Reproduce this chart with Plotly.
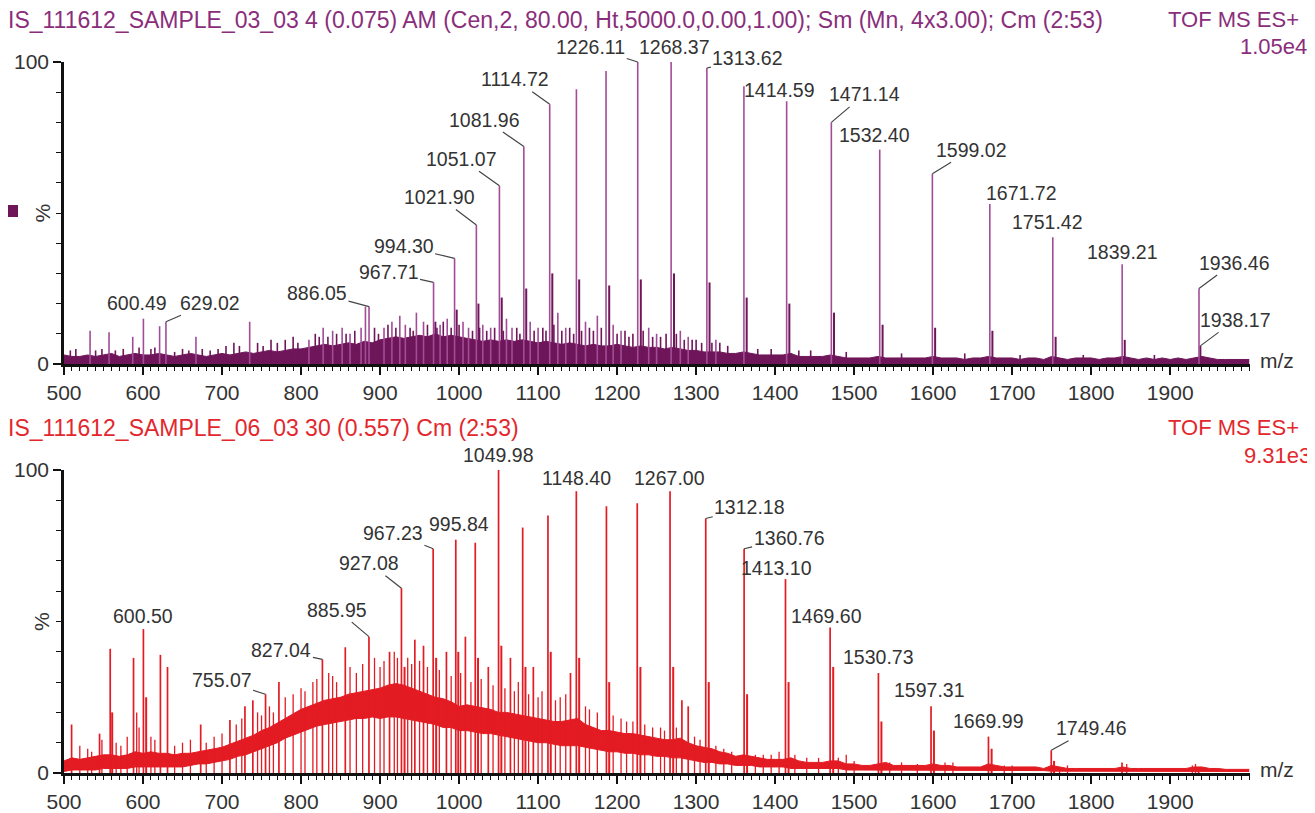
import plotly.graph_objects as go

# ---------------- data ----------------
# m/z grid for baselines (every 10 units, 500..2000)
grid_mz = list(range(500, 2001, 10))

# top spectrum: baseline envelope (% intensity)
top_base = [3, 2.5, 2.5, 3, 2.5, 3, 3.5, 2.5, 3, 3.5,
            3, 3, 3.5, 3, 2.5, 3, 3.5, 3, 2.5, 3,
            3.5, 3, 3.5, 4, 3.5, 4, 4.5, 4, 4.5, 5,
            5, 5.5, 6, 6.5, 6, 6.5, 7, 6.5, 7.5, 7,
            8, 8.5, 9, 8.5, 9, 9.5, 9, 10, 9, 9.5,
            9, 8.5, 8, 7.5, 8, 7.5, 8, 7.5, 8, 7.5,
            7, 7.5, 7, 6.5, 7, 6.5, 6, 6.5, 6, 6,
            6.5, 6, 5.5, 6, 5.5, 5.5, 5, 5.5, 5, 4.5,
            4.5, 4, 4, 4, 3.5, 3.5, 4, 3.5, 3, 3,
            3, 3, 3.5, 2.5, 2.5, 2.5, 2.5, 3, 2.5, 2,
            2, 2, 2, 2.5, 2, 2, 2, 2, 2, 2,
            2.5, 2, 2, 2, 1.5, 2, 2, 2.5, 2, 2,
            2, 1.5, 2, 2, 1.5, 2.5, 2, 1.5, 2, 2,
            2, 1.5, 2, 2, 2.5, 2, 1.5, 2, 1.5, 2,
            1.5, 2, 1.5, 2, 2.5, 2, 1.5, 1.5, 1.5, 1.5,
            1.5]

# top spectrum: peaks
top_peak_mz = [533, 557, 587, 600.49, 621, 629.02, 667, 735, 810, 828, 840, 852, 862, 876,
               881.5, 886.05, 905, 915, 925, 932, 946, 955, 967.71, 976, 985, 994.30, 1005,
               1012, 1021.90, 1030, 1040, 1051.07, 1060, 1067, 1081.96, 1090, 1100, 1114.72,
               1125, 1135, 1148.50, 1160, 1175, 1186.00, 1195, 1205, 1226.11, 1240, 1250,
               1268.37, 1280, 1290, 1313.62, 1325, 1360.50, 1414.59, 1471.14, 1532.40,
               1599.02, 1671.72, 1751.42, 1839.21, 1936.46]
top_peak_int = [11, 10.5, 9, 15, 12.5, 14, 9, 14, 8, 12, 11, 12, 10, 12,
                19, 19, 12, 14, 16, 13, 17, 14, 27, 13, 15, 35, 14,
                12, 46, 13, 12, 59, 15, 12, 72, 14, 12, 86,
                17, 12, 91, 14, 16, 97, 13, 11, 100, 12, 10,
                100, 11, 9, 98, 8, 92, 87, 80, 71,
                63, 53, 42, 33, 25]

# top spectrum: small noise spikes
top_noise_mz = [508, 515, 540, 548, 565, 575, 595, 610, 615, 640, 650, 658, 675, 685, 695,
                705, 715, 722, 745, 752, 762, 770, 780, 790, 796, 818, 823, 834, 845, 857,
                868, 893, 898, 910, 920, 938, 942, 960, 972, 980, 990, 1000, 1017, 1026,
                1035, 1045, 1056, 1073, 1077, 1095, 1106, 1110, 1120, 1130, 1140, 1145, 1155,
                1165, 1170, 1180, 1200, 1210, 1215, 1220, 1233, 1245, 1255, 1262, 1275, 1285,
                1295, 1300, 1307, 1320, 1330, 1340, 1378, 1395, 1430, 1445, 1490, 1560, 1640,
                1710, 1790, 1880]
top_noise_int = [4.5, 5, 4.5, 5, 4.5, 5, 5.5, 5, 5.5, 4, 5, 4.5, 5, 4.5, 5,
                 6, 7, 6, 7, 6, 8, 7, 8, 9, 7, 10, 9, 9, 10, 10,
                 11, 12, 10, 13, 12, 12, 11, 13, 12, 14, 12, 13, 11, 12,
                 11, 12, 11, 12, 10, 11, 12, 11, 13, 11, 12, 10, 11,
                 12, 11, 12, 10, 11, 9, 10, 11, 9, 9, 10, 10, 8,
                 8, 8, 7, 7, 7, 6, 5, 5, 4.5, 4.5, 4, 3.5, 3.5,
                 3, 3, 3]

# top spectrum: shoulder peaks beside the main ones
top_sh_mz = [970, 997, 1024.5, 1054, 1085, 1118, 1152, 1190, 1230, 1272, 1317, 1364,
             1418, 1474.5, 1536, 1602.5, 1675, 1755, 1842.5, 1938.17]
top_sh_int = [14, 18, 20, 22, 25, 30, 28, 26, 28, 30, 27, 22, 20, 17, 13, 12, 11, 9, 8, 6]

# bottom spectrum: noise band (lower and upper edges, %)
bot_lower = [0.5, 1, 1, 1, 1, 1.5, 1.5, 1.5, 1.5, 2,
             2, 2, 2, 2, 2, 2, 2.5, 3, 3, 3.5,
             4, 4.5, 5.5, 6, 7, 8, 9, 10, 11.5, 12.5,
             13.5, 14.5, 15.5, 16, 16.5, 17, 17.5, 18, 18, 18.5,
             18, 18.5, 18.5, 18, 17.5, 17, 16.5, 16, 15, 15,
             14, 14, 13.5, 13, 13, 12.5, 12, 11.5, 11, 10.5,
             10, 10, 9.5, 9, 9, 9, 8.5, 8, 7.5, 7,
             7, 6.5, 6.5, 6, 6, 5.5, 5.5, 5, 5, 4.5,
             4, 3.5, 3.5, 3, 3, 2.5, 2.5, 2.5, 2, 2,
             2, 2, 1.5, 1.5, 1.5, 1.5, 1.5, 1.5, 1.5, 1,
             1, 1, 1, 1, 1, 1, 1, 1, 1, 1,
             1, 1, 1, 0.8, 0.8, 0.8, 0.8, 1, 0.8, 0.8,
             0.8, 0.8, 0.8, 0.8, 0.8, 0.6, 0.6, 0.6, 0.6, 0.6,
             0.6, 0.6, 0.6, 0.6, 0.6, 0.6, 0.5, 0.5, 0.5, 0.5,
             0.5, 0.5, 0.5, 0.5, 0.5, 0.5, 0.5, 0.5, 0.5, 0.5,
             0.5]
bot_upper = [4, 5, 4.5, 5, 5.5, 6, 6, 5.5, 6, 7,
             6.5, 7, 6.5, 6.5, 6, 6.5, 6.5, 7, 7.5, 8,
             8.5, 9.5, 10.5, 11.5, 12.5, 14, 15, 16.5, 18, 19.5,
             21, 22, 23, 24, 24.5, 25, 26, 26.5, 27, 27.5,
             28, 29, 29.5, 29, 28, 27, 26, 25, 24.5, 23.5,
             22, 22.5, 22, 21.5, 21, 20, 20, 19.5, 19, 18.5,
             18, 17.5, 17, 17, 17.5, 18, 16, 15, 14, 14,
             13.5, 13, 13, 12.5, 12, 11.5, 11, 11, 11.5, 10,
             9, 8.5, 8, 7, 6.5, 5.5, 6, 5.5, 5, 4.5,
             4.5, 4.5, 5, 4, 3.5, 3.5, 3.5, 4, 4, 3,
             3, 2.5, 2.5, 3, 3.5, 2.5, 2.5, 2.5, 2.5, 2.5,
             3, 2.5, 2.5, 2, 2, 2, 2, 3, 2.5, 2,
             2, 2, 2, 2, 1.5, 2.5, 2, 1.5, 1.5, 1.5,
             1.5, 1.5, 1.5, 1.5, 2, 1.5, 1.5, 1.5, 1.5, 1.5,
             1.5, 1.5, 1.5, 2, 2, 1.5, 1.5, 1.2, 1.2, 1.2,
             1.2]

# bottom spectrum: peaks
bot_peak_mz = [509.6, 545, 558.5, 588, 600.50, 622, 631, 673, 710, 729, 739, 755.07, 772,
               827.04, 856, 885.95, 912, 927.08, 944, 955, 967.23, 984, 995.84, 1008, 1020.5,
               1037, 1049.98, 1065, 1080.5, 1094, 1112.5, 1141, 1148.40, 1186.5, 1225.5,
               1267.00, 1282, 1290, 1312.18, 1360.76, 1413.10, 1469.60, 1530.73, 1597.31,
               1669.99, 1749.46, 1839.0, 1936.0]
bot_peak_int = [16, 13, 41, 38, 47.5, 39, 35, 16, 17.5, 22, 24, 26, 30,
                37.5, 41.5, 45, 40, 61, 44, 42, 74, 40, 77, 45, 76,
                35, 100, 38, 81, 35, 85, 33, 93, 88, 89,
                93, 24, 22, 84, 74, 64, 48, 33, 22,
                12, 7.5, 3.5, 2]

# bottom spectrum: small noise spikes
bot_noise_mz = [520, 530, 535, 548, 566, 572, 580, 592, 595, 610, 615, 640, 650, 660, 680,
                690, 700, 718, 725, 745, 750, 760, 765, 780, 790, 800, 805, 815, 820, 835,
                840, 845, 862, 870, 878, 893, 900, 905, 918, 922, 935, 940, 950, 960, 975,
                990, 1002, 1015, 1028, 1043, 1058, 1070, 1075, 1088, 1100, 1105, 1122, 1128,
                1135, 1160, 1165, 1175, 1195, 1205, 1212, 1220, 1235, 1245, 1255, 1260, 1275,
                1298, 1305, 1325, 1335, 1345, 1375, 1385, 1395, 1405, 1425, 1440, 1455, 1480,
                1490, 1500, 1545, 1560, 1580, 1615, 1625, 1690, 1700, 1760, 1770, 1845, 1928,
                1932]
bot_noise_int = [9, 8, 7, 11, 10, 9, 12, 20, 15, 12, 11, 9, 10, 11, 10,
                 12, 13, 16, 18, 20, 19, 22, 20, 25, 26, 28, 27, 30, 31, 33,
                 32, 30, 35, 33, 36, 38, 35, 37, 40, 38, 38, 36, 37, 35, 34,
                 32, 33, 30, 31, 29, 28, 27, 30, 26, 25, 27, 24, 25,
                 26, 22, 21, 20, 19, 18, 17, 17, 16, 15, 15, 14, 15,
                 12, 11, 9, 8, 7, 6, 6, 6, 7, 6, 5, 5, 5,
                 6, 4, 3.5, 3.5, 3, 3.5, 3.5, 2.5, 2.5, 2, 2.5, 3, 2.5,
                 3]

bot_sh_mz = [561, 604, 931, 971, 999, 1024, 1053.5, 1084, 1116, 1152, 1190, 1229.5, 1271,
             1316, 1364.5, 1417, 1473.5, 1534.5, 1601, 1674, 1753]
bot_sh_int = [20, 25, 35, 38, 40, 38, 42, 35, 40, 38, 30, 35, 35, 30, 26, 30, 35, 17, 14, 8, 4]

# labelled peaks
top_labels = [600.49, 629.02, 886.05, 967.71, 994.30, 1021.90, 1051.07, 1081.96, 1114.72,
              1226.11, 1268.37, 1313.62, 1414.59, 1471.14, 1532.40, 1599.02, 1671.72,
              1751.42, 1839.21, 1936.46, 1938.17]
bot_labels = [600.50, 755.07, 827.04, 885.95, 927.08, 967.23, 995.84, 1049.98, 1148.40,
              1267.00, 1312.18, 1360.76, 1413.10, 1469.60, 1530.73, 1597.31, 1669.99, 1749.46]

x_ticks = [500, 600, 700, 800, 900, 1000, 1100, 1200, 1300, 1400, 1500, 1600, 1700, 1800, 1900]

# ---------------- label placement (pixels: dx, dy, leader line) ----------------
top_label_pos = [(-6, -16, False), (44, -19, True), (-52, -14, True), (-45, -10, True),
                 (-51, -12, True), (-37, -28, True), (-38, -27, True), (-39, -27, True),
                 (-35, -25, True), (-47, -15, True), (3, -15, False), (41, -10, True),
                 (-7, -11, False), (33, -28, True), (-5, -15, False), (39, -24, True),
                 (32, -11, False), (-5, -15, False), (0, -12, False), (35, -26, True),
                 (35, -26, True)]
bot_label_pos = [(0, -13, False), (-44, -14, True), (-41, -9, True), (-32, -27, True),
                 (-32, -25, True), (-40, -16, True), (3, -16, False), (0, -15, False),
                 (0, -13, False), (-1, -13, False), (44, -11, True), (45, -11, True),
                 (-9, -11, False), (-4, -12, False), (0, -16, False), (-2, -16, False),
                 (0, -16, False), (40, -22, True)]

# ---------------- styles ----------------
PAGE_OFF = 8                 # default body margin of the page
W, H = 1315 - PAGE_OFF, 813 - PAGE_OFF
FONT = "Liberation Sans, Arial, sans-serif"
PURPLE_FILL = "#6E1659"
PURPLE_LINE = "#A24C98"
PURPLE_TEXT = "#8A2E7C"
RED = "#E31B23"
RED_TEXT = "#E2282E"
TXT = "#333333"
AX = "#111111"


def px_x(p):
    return (p - PAGE_OFF) / W


def px_y(p):
    return (H - (p - PAGE_OFF)) / H


def sticks(mzs, ints):
    xs, ys = [], []
    for m, i in zip(mzs, ints):
        xs += [m, m, None]
        ys += [0, i, None]
    return xs, ys


fig = go.Figure()

# top panel
fig.add_trace(go.Scatter(x=grid_mz, y=top_base, mode="lines", fill="tozeroy",
                         fillcolor=PURPLE_FILL, line=dict(color=PURPLE_FILL, width=1),
                         xaxis="x", yaxis="y", hoverinfo="skip"))
sx, sy = sticks(top_noise_mz, top_noise_int)
fig.add_trace(go.Scatter(x=sx, y=sy, mode="lines", line=dict(color=PURPLE_FILL, width=1.6),
                         xaxis="x", yaxis="y", hoverinfo="skip"))
sx, sy = sticks(top_sh_mz, top_sh_int)
fig.add_trace(go.Scatter(x=sx, y=sy, mode="lines", line=dict(color=PURPLE_FILL, width=2),
                         xaxis="x", yaxis="y", hoverinfo="skip"))
sx, sy = sticks(top_peak_mz, top_peak_int)
fig.add_trace(go.Scatter(x=sx, y=sy, mode="lines", line=dict(color=PURPLE_LINE, width=1.6),
                         xaxis="x", yaxis="y", hoverinfo="skip"))

# bottom panel
fig.add_trace(go.Scatter(x=grid_mz, y=bot_lower, mode="lines", line=dict(color=RED, width=1),
                         xaxis="x2", yaxis="y2", hoverinfo="skip"))
fig.add_trace(go.Scatter(x=grid_mz, y=bot_upper, mode="lines", fill="tonexty", fillcolor=RED,
                         line=dict(color=RED, width=1), xaxis="x2", yaxis="y2", hoverinfo="skip"))
sx, sy = sticks(bot_noise_mz, bot_noise_int)
fig.add_trace(go.Scatter(x=sx, y=sy, mode="lines", line=dict(color=RED, width=1.3),
                         xaxis="x2", yaxis="y2", hoverinfo="skip"))
sx, sy = sticks(bot_sh_mz, bot_sh_int)
fig.add_trace(go.Scatter(x=sx, y=sy, mode="lines", line=dict(color=RED, width=2),
                         xaxis="x2", yaxis="y2", hoverinfo="skip"))
sx, sy = sticks(bot_peak_mz, bot_peak_int)
fig.add_trace(go.Scatter(x=sx, y=sy, mode="lines", line=dict(color=RED, width=1.7),
                         xaxis="x2", yaxis="y2", hoverinfo="skip"))

x_dom = [px_x(64), px_x(1250)]
top_dom = [px_y(364), px_y(62)]
bot_dom = [px_y(773), px_y(470)]

xcommon = dict(range=[500, 2001], tickmode="array", tickvals=x_ticks,
               ticktext=[str(t) for t in x_ticks], showline=True, linecolor=AX, linewidth=2.5,
               ticks="outside", ticklen=8, tickwidth=1.5, tickcolor=AX,
               minor=dict(tickmode="linear", tick0=500, dtick=10, ticks="outside", ticklen=4,
                          tickwidth=1, tickcolor=AX),
               tickfont=dict(family=FONT, size=21, color=TXT), showgrid=False, zeroline=False,
               automargin=False, fixedrange=True)
ycommon = dict(range=[0, 100], tickmode="array", tickvals=[0, 100], ticktext=["0", "100"],
               showline=True, linecolor=AX, linewidth=2.5, ticks="outside", ticklen=8,
               tickwidth=1.5, tickcolor=AX,
               minor=dict(tickmode="linear", tick0=0, dtick=10, ticks="outside", ticklen=5,
                          tickwidth=1, tickcolor=AX),
               tickfont=dict(family=FONT, size=21, color=TXT), showgrid=False, zeroline=False,
               automargin=False, fixedrange=True)

fig.update_layout(
    width=W, height=H, autosize=False,
    margin=dict(l=0, r=0, t=0, b=0, pad=0),
    paper_bgcolor="white", plot_bgcolor="white",
    showlegend=False,
    xaxis=dict(domain=x_dom, anchor="y", **xcommon),
    yaxis=dict(domain=top_dom, anchor="x", **ycommon),
    xaxis2=dict(domain=x_dom, anchor="y2", **xcommon),
    yaxis2=dict(domain=bot_dom, anchor="x2", **ycommon),
)

annots = []
# headers
hdr_font = dict(family=FONT, size=23)
side_font = dict(family=FONT, size=22)
annots += [
    dict(xref="paper", yref="paper", x=px_x(6), y=px_y(20), xanchor="left", yanchor="middle",
         text="IS_111612_SAMPLE_03_03 4 (0.075) AM (Cen,2, 80.00, Ht,5000.0,0.00,1.00); "
              "Sm (Mn, 4x3.00); Cm (2:53)",
         showarrow=False, font=dict(color=PURPLE_TEXT, **hdr_font)),
    dict(xref="paper", yref="paper", x=px_x(1301), y=px_y(19), xanchor="right", yanchor="middle",
         text="TOF MS ES+", showarrow=False, font=dict(color=PURPLE_TEXT, **side_font)),
    dict(xref="paper", yref="paper", x=px_x(1309), y=px_y(46), xanchor="right", yanchor="middle",
         text="1.05e4", showarrow=False, font=dict(color=PURPLE_TEXT, **side_font)),
    dict(xref="paper", yref="paper", x=px_x(6), y=px_y(428), xanchor="left", yanchor="middle",
         text="IS_111612_SAMPLE_06_03 30 (0.557) Cm (2:53)",
         showarrow=False, font=dict(color=RED_TEXT, **hdr_font)),
    dict(xref="paper", yref="paper", x=px_x(1301), y=px_y(427), xanchor="right", yanchor="middle",
         text="TOF MS ES+", showarrow=False, font=dict(color=RED_TEXT, **side_font)),
    dict(xref="paper", yref="paper", x=px_x(1313), y=px_y(455), xanchor="right", yanchor="middle",
         text="9.31e3", showarrow=False, font=dict(color=RED_TEXT, **side_font)),
]
# % and m/z axis captions
for xr, yr in (("x", "y"), ("x2", "y2")):
    annots.append(dict(xref=xr + " domain", yref=yr, x=0, y=50, xanchor="right", yanchor="middle",
                       xshift=-9, text="%", textangle=-90, showarrow=False,
                       font=dict(family=FONT, size=21, color=TXT)))
    annots.append(dict(xref=xr + " domain", yref=yr, x=1, y=0, xanchor="left", yanchor="middle",
                       xshift=8, yshift=4, text="m/z", showarrow=False,
                       font=dict(family=FONT, size=21, color=TXT)))

# peak labels
lab_font = dict(family=FONT, size=19.5, color=TXT)
top_lookup = dict(zip(top_peak_mz + top_sh_mz, top_peak_int + top_sh_int))
bot_lookup = dict(zip(bot_peak_mz + bot_sh_mz, bot_peak_int + bot_sh_int))
for labels, pos, lookup, xr, yr in ((top_labels, top_label_pos, top_lookup, "x", "y"),
                                     (bot_labels, bot_label_pos, bot_lookup, "x2", "y2")):
    for m, (dx, dy, arrow) in zip(labels, pos):
        inten = lookup[m]
        if arrow:
            annots.append(dict(xref=xr, yref=yr, x=m, y=inten, text=f"{m:.2f}", showarrow=True,
                               arrowhead=0, arrowwidth=1.2, arrowcolor="#444", standoff=0,
                               ax=dx, ay=dy, font=lab_font))
        else:
            annots.append(dict(xref=xr, yref=yr, x=m, y=inten, text=f"{m:.2f}", showarrow=False,
                               xshift=dx, yshift=-dy, font=lab_font))

fig.update_layout(annotations=annots)

# small legend marker at left of the top trace
fig.add_shape(type="rect", xref="paper", yref="paper", x0=px_x(8), x1=px_x(18),
              y0=px_y(217), y1=px_y(205), fillcolor=PURPLE_FILL, line=dict(width=0))

fig.write_html("out.html")
